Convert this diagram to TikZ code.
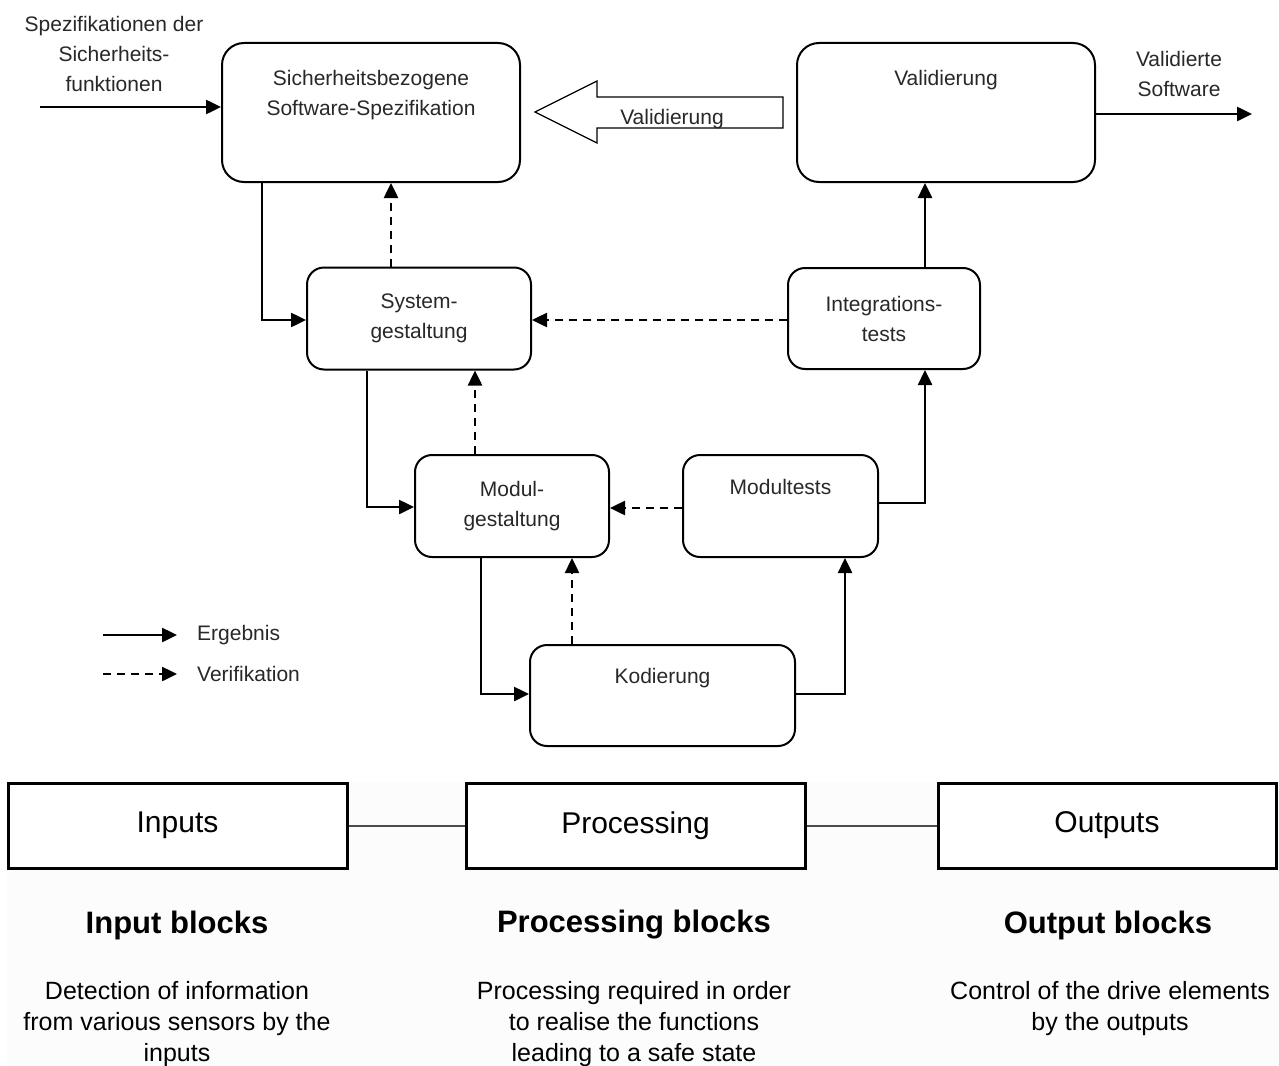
\documentclass[tikz,border=0pt]{standalone}
\usepackage{fontspec}
\setmainfont{Liberation Sans}
\usetikzlibrary{arrows.meta,calc}
\definecolor{txt}{RGB}{40,40,40}
\definecolor{bgpanel}{RGB}{252,252,252}
\tikzset{
  box/.style={draw, line width=2pt, rounded corners=17pt, align=center, text=txt,
    font=\fontsize{21}{30}\selectfont, inner sep=0pt},
  bigbox/.style={box, rounded corners=22pt},
  res/.style={line width=2.5pt, -{Triangle[length=15pt,width=14pt]}},
  ver/.style={line width=2.5pt, dash pattern=on 8pt off 6pt, -{Triangle[length=15pt,width=14pt]}},
  lbl/.style={align=center, text=txt, font=\fontsize{21}{30}\selectfont, inner sep=0pt},
  blk/.style={draw, line width=3pt, inner sep=0pt, font=\fontsize{30}{36}\selectfont},
  head/.style={font=\bfseries\fontsize{31}{36}\selectfont, inner sep=0pt},
  desc/.style={align=center, font=\fontsize{25}{31}\selectfont, inner sep=0pt},
}
\begin{document}
\begin{tikzpicture}[x=1pt,y=-1pt]
\useasboundingbox (0,0) rectangle (1279,1065);
\fill[white] (0,0) rectangle (1279,1065);
\fill[bgpanel] (7,782) rectangle (1279,1065);

% main boxes
\node[bigbox, minimum width=298pt, minimum height=139pt] (A) at (371,112.5)
  {Sicherheitsbezogene\\Software-Spezifikation\\\strut};
\node[bigbox, minimum width=298pt, minimum height=139pt] (V) at (946,112.5)
  {Validierung\\\strut\\\strut};
\node[box, minimum width=224pt, minimum height=102pt] (S) at (419,318.5)
  {System-\\gestaltung};
\node[box, minimum width=192pt, minimum height=101pt] (I) at (884,318.5)
  {Integrations-\\tests};
\node[box, minimum width=194pt, minimum height=102pt] (M) at (512,506)
  {Modul-\\gestaltung};
\node[box, minimum width=195pt, minimum height=102pt] (MT) at (780.5,506)
  {Modultests\\\strut};
\node[box, minimum width=265pt, minimum height=101pt] (K) at (662.5,695.5)
  {Kodierung\\\strut};

% hollow validation arrow
\draw[line width=1.2pt, fill=white] (783,97) -- (597,97) -- (597,81) -- (535,112)
  -- (597,143) -- (597,128) -- (783,128) -- cycle;
\node[lbl] (VA) at (672,119) {Validierung};

% input / output
\coordinate (in) at (40,107);
\coordinate (out) at (1252,114);
\node[lbl] (inlbl) at (114,54) {Spezifikationen der\\Sicherheits-\\funktionen};
\node[lbl] (outlbl) at (1179,74) {Validierte\\Software};
\draw[res] (in) -- (A.west |- in);
\draw[res] (V.east |- out) -- (out);

% connectors
\draw[res] (262,0 |- A.south) |- (S.west |- 0,320);
\draw[ver] (391,0 |- S.north) -- (391,0 |- A.south);
\draw[res] (367,0 |- S.south) |- (M.west |- 0,507);
\draw[ver] (475,0 |- M.north) -- (475,0 |- S.south);
\draw[res] (481,0 |- M.south) |- (K.west |- 0,694);
\draw[ver] (572,0 |- K.north) -- (572,0 |- M.south);
\draw[res] (K.east |- 0,694) -| (845,0 |- MT.south);
\draw[ver] (MT.west |- 0,508) -- (M.east |- 0,508);
\draw[res] (MT.east |- 0,503) -| (925,0 |- I.south);
\draw[ver] (I.west |- 0,320) -- (S.east |- 0,320);
\draw[res] (925,0 |- I.north) -- (925,0 |- V.south);

% legend
\coordinate (l1a) at (103,635);
\coordinate (l1b) at (177,635);
\coordinate (l2a) at (103,674);
\coordinate (l2b) at (177,674);
\draw[res] (l1a) -- (l1b);
\draw[ver] (l2a) -- (l2b);
\node[lbl, anchor=west] (erg) at (197,635) {Ergebnis};
\node[lbl, anchor=west] (verif) at (197,674) {Verifikation};

% bottom blocks
\node[blk, fill=white, minimum width=339pt, minimum height=85pt] (IN) at (177.5,825.5) {Inputs};
\node[blk, fill=white, minimum width=339pt, minimum height=85pt] (PR) at (635.5,825.5) {Processing};
\node[blk, fill=white, minimum width=338pt, minimum height=85pt] (OU) at (1107,825.5) {Outputs};
\draw[line width=1.2pt, black!70] (IN.east |- 0,826) -- (PR.west |- 0,826);
\draw[line width=1.2pt, black!70] (PR.east |- 0,826) -- (OU.west |- 0,826);

\node[head] (h1) at (177,925) {Input blocks};
\node[head] (h2) at (634,925) {Processing blocks};
\node[head] (h3) at (1108,925) {Output blocks};

\node[desc] (d1) at (177,1024) {Detection of information\\from various sensors by the\\inputs};
\node[desc] (d2) at (634,1024) {Processing required in order\\to realise the functions\\leading to a safe state};
\node[desc] (d3) at (1110,1008.5) {Control of the drive elements\\by the outputs};
\end{tikzpicture}
\end{document}
